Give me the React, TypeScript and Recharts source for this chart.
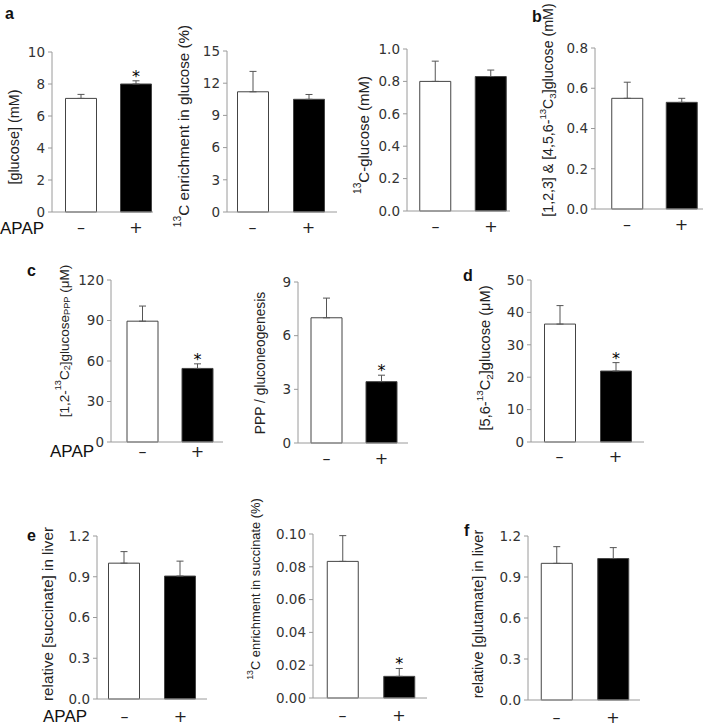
import { BarChart, Bar, XAxis, YAxis, ErrorBar, Cell, LabelList } from 'recharts';

// groups on the x axis: control (–) and APAP (+)
const groups = ['–', '+'];
const barFills = ['#ffffff', '#000000'];

// a
const glucose = [7.1, 8.0];
const glucoseErr = [0.25, 0.2];
const glucoseStars = [false, true];
const glucoseTicks = [0, 2, 4, 6, 8, 10];

const glucoseEnrich = [11.2, 10.5];
const glucoseEnrichErr = [1.9, 0.45];
const glucoseEnrichTicks = [0, 3, 6, 9, 12, 15];

const labeledGlucose = [0.8, 0.83];
const labeledGlucoseErr = [0.125, 0.04];
const labeledGlucoseTicks = [0, 0.2, 0.4, 0.6, 0.8, 1.0];

// b
const c3Glucose = [0.55, 0.53];
const c3GlucoseErr = [0.08, 0.02];
const c3GlucoseTicks = [0, 0.2, 0.4, 0.6, 0.8];

// c
const pppGlucose = [89.5, 54.5];
const pppGlucoseErr = [11.2, 3.4];
const pppGlucoseStars = [false, true];
const pppGlucoseTicks = [0, 30, 60, 90, 120];

const pppRatio = [7.0, 3.43];
const pppRatioErr = [1.1, 0.36];
const pppRatioStars = [false, true];
const pppRatioTicks = [0, 3, 6, 9];

// d
const c2Glucose = [36.4, 21.9];
const c2GlucoseErr = [5.7, 2.6];
const c2GlucoseStars = [false, true];
const c2GlucoseTicks = [0, 10, 20, 30, 40, 50];

// e
const succinate = [1.0, 0.905];
const succinateErr = [0.085, 0.11];
const succinateTicks = [0, 0.3, 0.6, 0.9, 1.2];

const succinateEnrich = [0.0833, 0.0132];
const succinateEnrichErr = [0.0157, 0.0048];
const succinateEnrichStars = [false, true];
const succinateEnrichTicks = [0, 0.02, 0.04, 0.06, 0.08, 0.1];

// f
const glutamate = [1.0, 1.035];
const glutamateErr = [0.122, 0.08];
const glutamateTicks = [0, 0.3, 0.6, 0.9, 1.2];

const noStars = [false, false];

type Part = { t: string; s?: 'sup' | 'sub' };

interface Panel {
  values: number[];
  errs: number[];
  stars: boolean[];
  ticks: number[];
  digits: number;
  label: Part[];
  labelX: number;
  labelY: number;
  labelSize: number;
  // page layout of the plot area
  x0: number;
  x1: number;
  c0: number;
  c1: number;
  yTop: number;
  yBot: number;
  xTickMargin: number;
}

const AXIS = '#9a9a9a';
const FONT = 'Liberation Sans, Arial, sans-serif';
const TICK_FONT = 'DejaVu Sans, sans-serif';
const YW = 75;
const MT = 50;
const MR = 4;
const XH = 34;

const panels: Panel[] = [
  {
    values: glucose, errs: glucoseErr, stars: glucoseStars, ticks: glucoseTicks, digits: 0,
    label: [{ t: '[glucose] (mM)' }], labelX: 14, labelY: 137, labelSize: 14.4,
    x0: 52, x1: 153, c0: 81, c1: 136, yTop: 52, yBot: 212, xTickMargin: 10,
  },
  {
    values: glucoseEnrich, errs: glucoseEnrichErr, stars: noStars, ticks: glucoseEnrichTicks, digits: 0,
    label: [{ t: '13', s: 'sup' }, { t: 'C enrichment in glucose (%)' }], labelX: 183, labelY: 126, labelSize: 15.2,
    x0: 227, x1: 337, c0: 252.5, c1: 308.5, yTop: 51, yBot: 212, xTickMargin: 10,
  },
  {
    values: labeledGlucose, errs: labeledGlucoseErr, stars: noStars, ticks: labeledGlucoseTicks, digits: 1,
    label: [{ t: '13', s: 'sup' }, { t: 'C-glucose (mM)' }], labelX: 363, labelY: 135, labelSize: 15,
    x0: 407, x1: 510, c0: 435.5, c1: 491, yTop: 49, yBot: 211, xTickMargin: 10,
  },
  {
    values: c3Glucose, errs: c3GlucoseErr, stars: noStars, ticks: c3GlucoseTicks, digits: 1,
    label: [{ t: '[1,2,3] & [4,5,6-' }, { t: '13', s: 'sup' }, { t: 'C' }, { t: '3', s: 'sub' }, { t: ']glucose (mM)' }],
    labelX: 548, labelY: 110, labelSize: 14.2,
    x0: 595, x1: 703, c0: 627, c1: 681.5, yTop: 48, yBot: 209, xTickMargin: 10,
  },
  {
    values: pppGlucose, errs: pppGlucoseErr, stars: pppGlucoseStars, ticks: pppGlucoseTicks, digits: 0,
    label: [{ t: '[1,2-' }, { t: '13', s: 'sup' }, { t: 'C' }, { t: '2', s: 'sub' }, { t: ']glucose' }, { t: 'PPP', s: 'sub' }, { t: ' (μM)' }],
    labelX: 64, labelY: 341, labelSize: 13.5,
    x0: 111, x1: 223, c0: 142.5, c1: 197.5, yTop: 280, yBot: 442, xTickMargin: 4,
  },
  {
    values: pppRatio, errs: pppRatioErr, stars: pppRatioStars, ticks: pppRatioTicks, digits: 0,
    label: [{ t: 'PPP / gluconeogenesis' }], labelX: 260, labelY: 363, labelSize: 13.8,
    x0: 298, x1: 408, c0: 326.5, c1: 381.5, yTop: 282, yBot: 443, xTickMargin: 10,
  },
  {
    values: c2Glucose, errs: c2GlucoseErr, stars: c2GlucoseStars, ticks: c2GlucoseTicks, digits: 0,
    label: [{ t: '[5,6-' }, { t: '13', s: 'sup' }, { t: 'C' }, { t: '2', s: 'sub' }, { t: ']glucose (μM)' }],
    labelX: 485, labelY: 358, labelSize: 14.6,
    x0: 531, x1: 644, c0: 559.5, c1: 615.5, yTop: 280, yBot: 442, xTickMargin: 9,
  },
  {
    values: succinate, errs: succinateErr, stars: noStars, ticks: succinateTicks, digits: 1,
    label: [{ t: 'relative [succinate] in liver' }], labelX: 47, labelY: 614, labelSize: 15.2,
    x0: 97, x1: 207, c0: 124.5, c1: 180.5, yTop: 536, yBot: 699, xTickMargin: 12,
  },
  {
    values: succinateEnrich, errs: succinateEnrichErr, stars: succinateEnrichStars, ticks: succinateEnrichTicks, digits: 2,
    label: [{ t: '13', s: 'sup' }, { t: 'C enrichment in succinate (%)' }], labelX: 255, labelY: 589, labelSize: 12.9,
    x0: 313, x1: 427, c0: 342.5, c1: 399, yTop: 534, yBot: 698, xTickMargin: 12,
  },
  {
    values: glutamate, errs: glutamateErr, stars: noStars, ticks: glutamateTicks, digits: 1,
    label: [{ t: 'relative [glutamate] in liver' }], labelX: 478, labelY: 614, labelSize: 14.5,
    x0: 528, x1: 640, c0: 556.5, c1: 613, yTop: 536, yBot: 700, xTickMargin: 12,
  },
];

const letters = [
  { t: 'a', x: 5, y: 6 },
  { t: 'b', x: 532, y: 9 },
  { t: 'c', x: 27, y: 263 },
  { t: 'd', x: 463, y: 268 },
  { t: 'e', x: 27, y: 528 },
  { t: 'f', x: 464, y: 523 },
];

const apapRows = [
  { x: 0, y: 229 },
  { x: 50, y: 452 },
  { x: 43, y: 717 },
];

// rotated y-axis title; lx/ly are chart-local (recharts overrides x/y on label content)
function AxisTitle({ parts, lx, ly, size }: { parts: Part[]; lx: number; ly: number; size: number }) {
  const small = size * 0.68;
  const shift = size * 0.42;
  let offset = 0;
  const spans = parts.map((p, i) => {
    let dy = -offset;
    offset = 0;
    if (p.s === 'sup') {
      dy -= shift;
      offset = -shift;
    } else if (p.s === 'sub') {
      dy += shift * 0.6;
      offset = shift * 0.6;
    }
    return (
      <tspan key={i} dy={dy} fontSize={p.s ? small : size}>
        {p.t}
      </tspan>
    );
  });
  return (
    <text
      x={lx}
      y={ly}
      transform={`rotate(-90 ${lx} ${ly})`}
      textAnchor="middle"
      dominantBaseline="central"
      fontFamily={FONT}
      fontSize={size}
      fill="#222"
    >
      {spans}
    </text>
  );
}

function MiniBar({ p }: { p: Panel }) {
  const data = p.values.map((v, i) => ({ idx: i, value: v, err: [0, p.errs[i]] }));
  const step = p.c1 - p.c0;
  const lo = -(p.c0 - p.x0) / step;
  const hi = (p.x1 - p.c0) / step;
  const left = p.x0 - YW;
  const top = p.yTop - MT;
  const width = YW + (p.x1 - p.x0) + MR;
  const height = MT + (p.yBot - p.yTop) + XH;
  const max = p.ticks[p.ticks.length - 1];

  // significance star sits just above the error bar
  const star = (props: any) => {
    const { x, y, width: w, height: h, value, index } = props;
    if (!p.stars[index]) return null;
    const errTop = Number(y) - (p.errs[index] * Number(h)) / Number(value);
    return (
      <text x={Number(x) + Number(w) / 2} y={errTop + 1} textAnchor="middle" fontSize={16} fontFamily={TICK_FONT} fill="#000">
        *
      </text>
    );
  };

  return (
    <div style={{ position: 'absolute', left, top }}>
      <BarChart width={width} height={height} data={data} margin={{ top: MT, right: MR, bottom: 0, left: 0 }}>
        <XAxis
          type="number"
          dataKey="idx"
          domain={[lo, hi]}
          ticks={[0, 1]}
          interval={0}
          allowDataOverflow
          tickFormatter={(i) => groups[Math.round(i)]}
          tickLine={false}
          tickSize={0}
          tickMargin={p.xTickMargin}
          height={XH}
          axisLine={{ stroke: AXIS }}
          tick={{ fontSize: 16, fill: '#222', fontFamily: TICK_FONT }}
        />
        <YAxis
          type="number"
          domain={[0, max]}
          ticks={p.ticks}
          interval={0}
          width={YW}
          tickFormatter={(v) => Number(v).toFixed(p.digits)}
          tickSize={4}
          tickMargin={3}
          tickLine={{ stroke: AXIS }}
          axisLine={{ stroke: AXIS }}
          tick={{ fontSize: 13.5, fill: '#333', fontFamily: TICK_FONT }}
          label={<AxisTitle parts={p.label} lx={p.labelX - left} ly={p.labelY - top} size={p.labelSize} />}
        />
        <Bar dataKey="value" barSize={31} isAnimationActive={false} stroke="#444" strokeWidth={1}>
          {data.map((d, i) => (
            <Cell key={d.idx} fill={barFills[i]} />
          ))}
          <ErrorBar dataKey="err" width={3.5} stroke="#555" strokeWidth={1} direction="y" isAnimationActive={false} />
          <LabelList dataKey="value" content={star} />
        </Bar>
      </BarChart>
    </div>
  );
}

export default function App() {
  return (
    <div style={{ position: 'absolute', left: 0, top: 0, width: 709, height: 726, background: '#fff', overflow: 'hidden' }}>
      {panels.map((p, i) => (
        <MiniBar key={i} p={p} />
      ))}
      {letters.map((l) => (
        <div
          key={l.t}
          style={{ position: 'absolute', left: l.x, top: l.y, fontFamily: FONT, fontWeight: 'bold', fontSize: 16, lineHeight: '16px', color: '#111' }}
        >
          {l.t}
        </div>
      ))}
      {apapRows.map((r, i) => (
        <div
          key={i}
          style={{ position: 'absolute', left: r.x, top: r.y - 9, fontFamily: FONT, fontSize: 17, lineHeight: '18px', color: '#111' }}
        >
          APAP
        </div>
      ))}
    </div>
  );
}
